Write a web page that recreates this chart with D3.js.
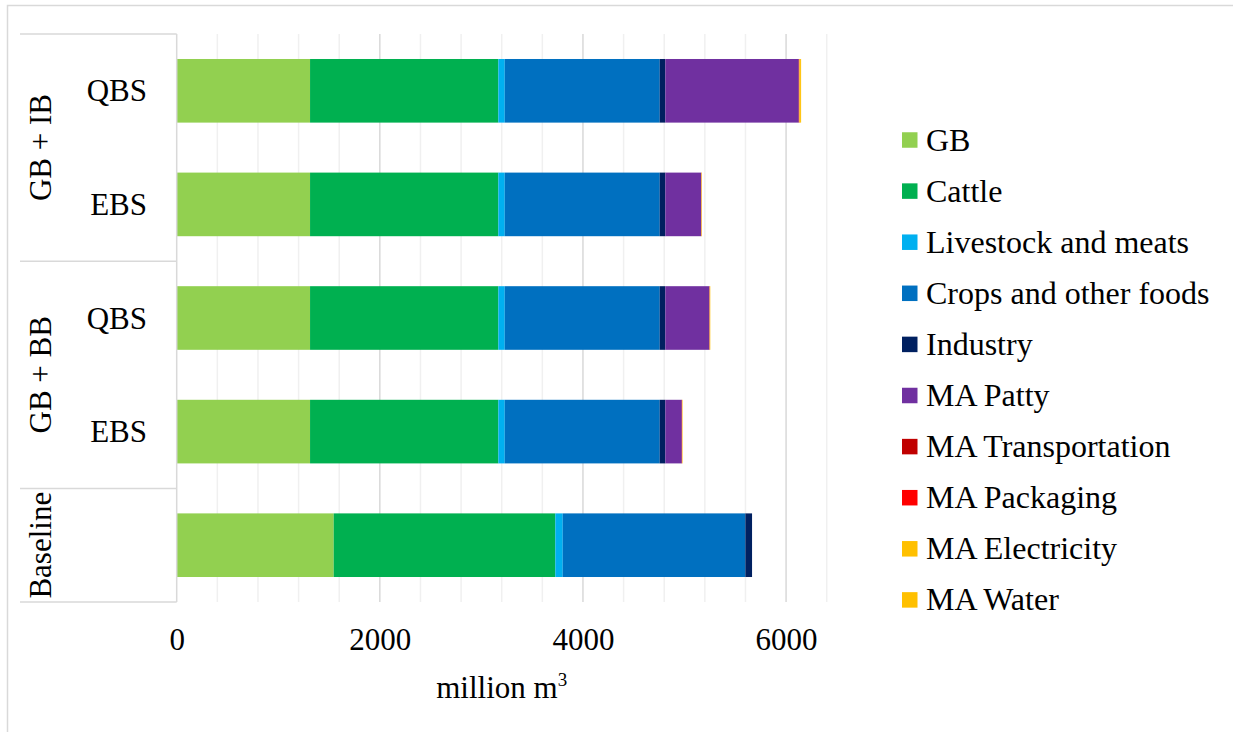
<!DOCTYPE html>
<html>
<head>
<meta charset="utf-8">
<script src="https://cdn.jsdelivr.net/npm/d3@7"></script>
<style>
  body { margin: 0; background: #fff; }
  svg text { font-family: "Liberation Serif", "Times New Roman", serif; fill: #000; }
</style>
</head>
<body>
<div id="chart"></div>
<script>
// bars from top to bottom
const groups = ['GB + IB', 'GB + IB', 'GB + BB', 'GB + BB', 'Baseline'];
const categories = ['QBS', 'EBS', 'QBS', 'EBS', ''];

const seriesNames = ['GB', 'Cattle', 'Livestock and meats', 'Crops and other foods', 'Industry',
  'MA Patty', 'MA Transportation', 'MA Packaging', 'MA Electricity', 'MA Water'];
const seriesColors = ['#92D050', '#00B050', '#00B0F0', '#0070C0', '#002060',
  '#7030A0', '#C00000', '#FF0000', '#FFC000', '#FFC000'];

// million m3
const gbValues = [1313, 1313, 1313, 1313, 1546];
const cattleValues = [1854, 1854, 1854, 1854, 2182];
const livestockValues = [63, 63, 63, 63, 73];
const cropsValues = [1526, 1526, 1526, 1526, 1798];
const industryValues = [55, 55, 55, 55, 66];
const pattyValues = [1314, 352, 434, 162, 0];
const transportValues = [4, 2, 2, 2, 0];
const packagingValues = [2, 1, 1, 1, 0];
const electricityValues = [15, 4, 5, 4, 0];
const waterValues = [2, 1, 1, 1, 0];

const tickLabels = [0, 2000, 4000, 6000];

const allValues = [gbValues, cattleValues, livestockValues, cropsValues, industryValues,
  pattyValues, transportValues, packagingValues, electricityValues, waterValues];

const rows = categories.map((c, i) => {
  const r = { id: i, group: groups[i], cat: c };
  seriesNames.forEach((s, k) => { r[s] = allValues[k][i]; });
  return r;
});

const width = 1233, height = 732;
const svg = d3.select('#chart').append('svg')
  .attr('width', width).attr('height', height);

// outer frame
svg.append('path')
  .attr('d', `M7.5,${height} V5.5 H${width}`)
  .attr('fill', 'none').attr('stroke', '#d9d9d9').attr('stroke-width', 1.5);

const x = d3.scaleLinear().domain([0, 6400]).range([176.7, 826.7]);
const y = d3.scaleBand().domain(rows.map((d) => d.id))
  .range([34, 602]).paddingInner(0.44).paddingOuter(0.22);

// gridlines
const minor = d3.range(400, 6401, 400);
svg.append('g').selectAll('line').data(minor).join('line')
  .attr('x1', (d) => x(d)).attr('x2', (d) => x(d))
  .attr('y1', 34).attr('y2', 602)
  .attr('stroke', (d) => (d % 2000 === 0 ? '#d9d9d9' : '#f0f0f0'))
  .attr('stroke-width', 1.5);

// stacked bars
const stack = d3.stack().keys(seriesNames);
const layers = stack(rows);

svg.append('g').selectAll('g').data(layers).join('g')
  .attr('fill', (d, i) => seriesColors[i])
  .selectAll('rect').data((d) => d).join('rect')
  .attr('x', (d) => x(d[0]))
  .attr('y', (d) => y(d.data.id))
  .attr('width', (d) => Math.max(0, x(d[1]) - x(d[0])))
  .attr('height', y.bandwidth());

// category axis line and group boxes
const x0 = x(0);
svg.append('line')
  .attr('x1', x0).attr('x2', x0).attr('y1', 34).attr('y2', 602)
  .attr('stroke', '#d9d9d9').attr('stroke-width', 1.5);

const groupNames = Array.from(new Set(groups));
const groupSpans = groupNames.map((g) => {
  const ids = rows.filter((r) => r.group === g).map((r) => r.id);
  const gap = y.step() - y.bandwidth();
  const top = y(ids[0]) - gap / 2;
  const bottom = y(ids[ids.length - 1]) + y.bandwidth() + gap / 2;
  return { name: g, top, bottom };
});

const seps = [groupSpans[0].top].concat(groupSpans.map((g) => g.bottom));
svg.append('g').selectAll('line').data(seps).join('line')
  .attr('x1', 20).attr('x2', x0)
  .attr('y1', (d) => d).attr('y2', (d) => d)
  .attr('stroke', '#d9d9d9').attr('stroke-width', 1.5);

svg.append('g').selectAll('text').data(groupSpans).join('text')
  .attr('transform', (d) => `translate(51,${(d.top + d.bottom) / 2}) rotate(-90)`)
  .attr('text-anchor', 'middle')
  .style('font-size', '31px')
  .text((d) => d.name);

svg.append('g').selectAll('text').data(rows).join('text')
  .attr('x', 147)
  .attr('y', (d) => y(d.id) + y.bandwidth() / 2 + 10.5)
  .attr('text-anchor', 'end')
  .style('font-size', '31px')
  .text((d) => d.cat);

// value axis
const axis = svg.append('g')
  .attr('transform', 'translate(0,602)')
  .call(d3.axisBottom(x).tickValues(tickLabels).tickSize(0).tickPadding(0).tickFormat(d3.format('d')));
axis.select('.domain').remove();
axis.selectAll('text')
  .attr('y', 48).attr('dy', null)
  .style('font-size', '31px')
  .style('font-family', '"Liberation Serif", "Times New Roman", serif');

const title = svg.append('text')
  .attr('x', (x.range()[0] + x.range()[1]) / 2)
  .attr('y', 698)
  .attr('text-anchor', 'middle')
  .style('font-size', '31px');
title.append('tspan').text('million m');
title.append('tspan').attr('dy', -12).style('font-size', '19px').text('3');

// legend
const legend = svg.append('g').selectAll('g').data(seriesNames).join('g')
  .attr('transform', (d, i) => `translate(902,${140 + i * 51.1})`);
legend.append('rect')
  .attr('x', 0).attr('y', -7.75).attr('width', 15.5).attr('height', 15.5)
  .attr('fill', (d, i) => seriesColors[i]);
legend.append('text')
  .attr('x', 24).attr('y', 10.5)
  .style('font-size', '32px')
  .text((d) => d);
</script>
</body>
</html>
